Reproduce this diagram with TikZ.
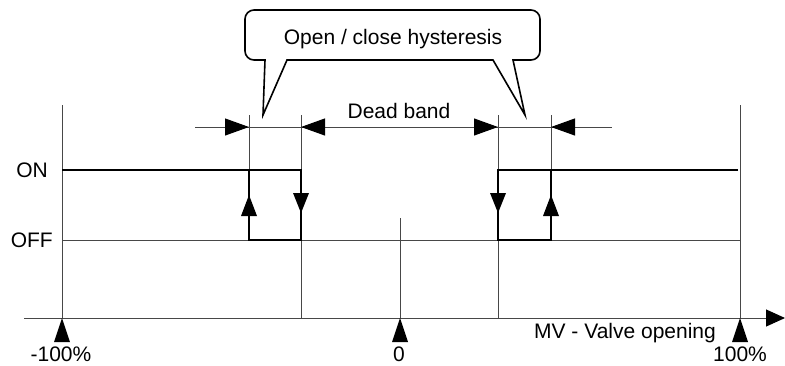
\documentclass[tikz,border=0pt]{standalone}
\usepackage{fontspec}
\setmainfont{Liberation Sans}
\usetikzlibrary{arrows.meta}
\begin{document}
\begin{tikzpicture}[x=1pt,y=-1pt,
  thin line/.style={draw=black!72,line width=1pt},
  thick line/.style={draw=black,line width=2.4pt},
  lbl/.style={inner sep=0pt,font=\fontsize{21}{24}\selectfont},
  tri/.style={fill=black},
  dimarrow/.style={-{Triangle[length=24pt,width=17pt,color=black]},draw=black!72,line width=1pt}]
\useasboundingbox (0,0) rectangle (785,365);
% coordinates
\coordinate (axL) at (24,318);
\coordinate (axR) at (785,318);
% thin grid lines
\draw[thin line] (62,105) -- (62,318);
\draw[thin line] (740,105) -- (740,318);
\draw[thin line] (400,218) -- (400,318);
\draw[thin line] (301,115) -- (301,318);
\draw[thin line] (498,115) -- (498,318);
\draw[thin line] (249,115) -- (249,170);
\draw[thin line] (551,115) -- (551,170);
\draw[thin line] (62,240) -- (740,240);
% axis
\draw[thin line,-{Triangle[length=19pt,width=17pt,color=black]}] (axL) -- (axR);
% dimension line
\draw[thin line] (195,127) -- (612,127);
\draw[dimarrow] (225,127) -- (249,127);
\draw[dimarrow] (325,127) -- (301,127);
\draw[dimarrow] (474,127) -- (498,127);
\draw[dimarrow] (575,127) -- (551,127);
% thick signal
\draw[thick line] (62,170) -- (301,170) -- (301,240) -- (249,240) -- (249,170);
\draw[thick line] (738,170) -- (498,170) -- (498,240) -- (551,240) -- (551,170);
% direction arrows on thick lines
\fill[tri] (249,195) -- (257,216) -- (241,216) -- cycle;
\fill[tri] (551,195) -- (559,216) -- (543,216) -- cycle;
\fill[tri] (301,213) -- (309,193) -- (293,193) -- cycle;
\fill[tri] (498,213) -- (506,193) -- (490,193) -- cycle;
% axis markers
\fill[tri] (62,318) -- (70,342) -- (54,342) -- cycle;
\fill[tri] (400,318) -- (408,342) -- (392,342) -- cycle;
\fill[tri] (740,318) -- (748,342) -- (732,342) -- cycle;
% callout
\draw[line width=1.6pt,fill=white] (287,60) -- (263,115) -- (265,60) [rounded corners=9pt] -- (245,60) -- (245,10) -- (540,10) -- (540,60) [sharp corners] -- (513,60) -- (525,115) -- (493,60) -- cycle;
\node[lbl] (callout) at (393,39) {Open / close hysteresis};
% labels
\node[lbl,anchor=east] (on) at (48,170) {ON};
\node[lbl,anchor=east] (off) at (53,240) {OFF};
\node[lbl] (db) at (399,111) {Dead band};
\node[lbl] (mv) at (625,333) {MV - Valve opening};
\node[lbl,anchor=base] (m100) at (61,361) {-100\%};
\node[lbl,anchor=base] (zero) at (399,361) {0};
\node[lbl,anchor=base] (p100) at (740,361) {100\%};
\end{tikzpicture}
\end{document}
